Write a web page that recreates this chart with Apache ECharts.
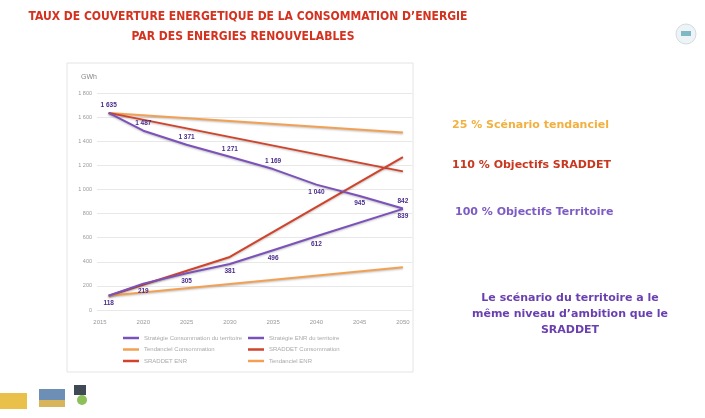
<!DOCTYPE html>
<html>
<head>
<meta charset="utf-8">
<script src="https://cdn.jsdelivr.net/npm/echarts@6/dist/echarts.min.js"></script>
<style>
  html, body { margin: 0; padding: 0; background: #fff; }
  #chart { width: 705px; height: 418px; }
</style>
</head>
<body>
<div id="chart"></div>
<script>
var years = [2015, 2020, 2025, 2030, 2035, 2040, 2045, 2050];

// [année, GWh]
var stratConso = [[2016, 1635], [2020, 1487], [2025, 1371], [2030, 1271], [2035, 1169], [2040, 1040], [2045, 945], [2050, 842]];
var stratEnr = [[2016, 118], [2020, 219], [2025, 305], [2030, 381], [2035, 496], [2040, 612], [2050, 839]];
var tendConso = [[2016, 1635], [2050, 1472]];
var sraddetConso = [[2016, 1635], [2050, 1150]];
var sraddetEnr = [[2016, 118], [2030, 440], [2050, 1268]];
var tendEnr = [[2016, 118], [2050, 355]];

var names = [
  'Stratégie Consommation du territoire',
  'Stratégie ENR du territoire',
  'Tendanciel Consommation',
  'SRADDET Consommation',
  'SRADDET ENR',
  'Tendanciel ENR'
];

var purple = '#7b52b9', red = '#d1432b', orange = '#f2a154';

function fmt(v) {
  return v >= 1000 ? Math.floor(v / 1000) + ' ' + String(v % 1000).padStart(3, '0') : String(v);
}

function line(name, data, color, labels, labelPos) {
  return {
    name: name,
    type: 'line',
    data: data,
    symbol: 'circle',
    symbolSize: 0.1,
    z: labels ? 3 : 2,
    itemStyle: { color: color },
    lineStyle: { width: 2, color: color, shadowBlur: 2, shadowColor: 'rgba(0,0,0,0.25)', shadowOffsetY: 1 },
    label: {
      show: !!labels,
      position: labelPos,
      distance: 4,
      fontSize: 6.5,
      fontWeight: 'bold',
      color: '#4a2c8c',
      formatter: function (p) { return fmt(p.value[1]); }
    }
  };
}

var consoSeries = line(names[0], stratConso.map(function (d, i) {
  return { value: d, label: { position: (i === 5 || i === 6) ? 'bottom' : 'top' } };
}), purple, true, 'top');

var chart = echarts.init(document.getElementById('chart'));

chart.setOption({
  backgroundColor: '#fff',
  animation: false,
  textStyle: { fontFamily: 'Liberation Sans' },
  grid: { left: 97, right: 293, top: 93, bottom: 108 },
  xAxis: {
    type: 'value',
    min: 2014.65,
    max: 2051.05,
    axisLine: { show: false },
    axisTick: { show: false },
    splitLine: { show: false },
    axisLabel: { customValues: years, fontSize: 6, color: '#999', margin: 9, formatter: function (v) { return String(v); } }
  },
  yAxis: {
    type: 'value',
    min: 0,
    max: 1800,
    interval: 200,
    name: 'GWh',
    nameLocation: 'end',
    nameGap: 12,
    nameTextStyle: { fontSize: 7, color: '#888', align: 'right' },
    axisLine: { show: false },
    axisTick: { show: false },
    splitLine: { lineStyle: { color: '#e8e8e8', width: 1 } },
    axisLabel: { fontSize: 5.5, color: '#999', margin: 5, formatter: fmt }
  },
  legend: [
    {
      orient: 'vertical', left: 118, top: 330, itemGap: 5.5,
      icon: 'rect', itemWidth: 16, itemHeight: 2.5,
      textStyle: { fontSize: 6, color: '#aaa' },
      data: [names[0], names[2], names[4]]
    },
    {
      orient: 'vertical', left: 243, top: 330, itemGap: 5.5,
      icon: 'rect', itemWidth: 16, itemHeight: 2.5,
      textStyle: { fontSize: 6, color: '#aaa' },
      data: [names[1], names[3], names[5]]
    }
  ],
  series: [
    consoSeries,
    line(names[1], stratEnr, purple, true, 'bottom'),
    line(names[2], tendConso, orange, false),
    line(names[3], sraddetConso, red, false),
    line(names[4], sraddetEnr, red, false),
    line(names[5], tendEnr, orange, false)
  ],
  graphic: [
    { type: 'rect', shape: { x: 67, y: 63, width: 346, height: 309 }, style: { fill: 'none', stroke: '#e4e4e4', lineWidth: 1 }, z: -1 },
    { type: 'text', x: 248, y: 17, style: { text: 'TAUX DE COUVERTURE ENERGETIQUE DE LA CONSOMMATION D\u2019ENERGIE', fill: '#d4311f', font: 'bold 12px "DejaVu Sans Condensed"', align: 'center', verticalAlign: 'middle' } },
    { type: 'text', x: 243, y: 37, style: { text: 'PAR DES ENERGIES RENOUVELABLES', fill: '#d4311f', font: 'bold 12px "DejaVu Sans Condensed"', align: 'center', verticalAlign: 'middle' } },
    { type: 'text', x: 452, y: 125, style: { text: '25 % Scénario tendanciel', fill: '#f2b03f', font: 'bold 11px "DejaVu Sans"', verticalAlign: 'middle' } },
    { type: 'text', x: 452, y: 165, style: { text: '110 % Objectifs SRADDET', fill: '#c8371f', font: 'bold 11px "DejaVu Sans"', verticalAlign: 'middle' } },
    { type: 'text', x: 455, y: 212, style: { text: '100 % Objectifs Territoire', fill: '#7d5bc4', font: 'bold 11px "DejaVu Sans"', verticalAlign: 'middle' } },
    { type: 'text', x: 570, y: 314, style: { text: 'Le scénario du territoire a le\nmême niveau d\u2019ambition que le\nSRADDET', fill: '#6a3fb0', font: 'bold 11px "DejaVu Sans"', align: 'center', verticalAlign: 'middle', lineHeight: 16 } },
    { type: 'circle', shape: { cx: 686, cy: 34, r: 10 }, style: { fill: '#eef4f6', stroke: '#cfdde2', lineWidth: 1 } },
    { type: 'rect', shape: { x: 681, y: 31, width: 10, height: 5 }, style: { fill: '#7fb7c4' } },
    { type: 'rect', shape: { x: 0, y: 393, width: 27, height: 16 }, style: { fill: '#e9c14a' } },
    { type: 'rect', shape: { x: 39, y: 389, width: 26, height: 18 }, style: { fill: '#6d8fb6' } },
    { type: 'rect', shape: { x: 39, y: 400, width: 26, height: 7 }, style: { fill: '#d8b45a' } },
    { type: 'rect', shape: { x: 74, y: 385, width: 12, height: 10 }, style: { fill: '#3f4a55' } },
    { type: 'circle', shape: { cx: 82, cy: 400, r: 5 }, style: { fill: '#8dbf5a' } }
  ]
});
</script>
</body>
</html>
